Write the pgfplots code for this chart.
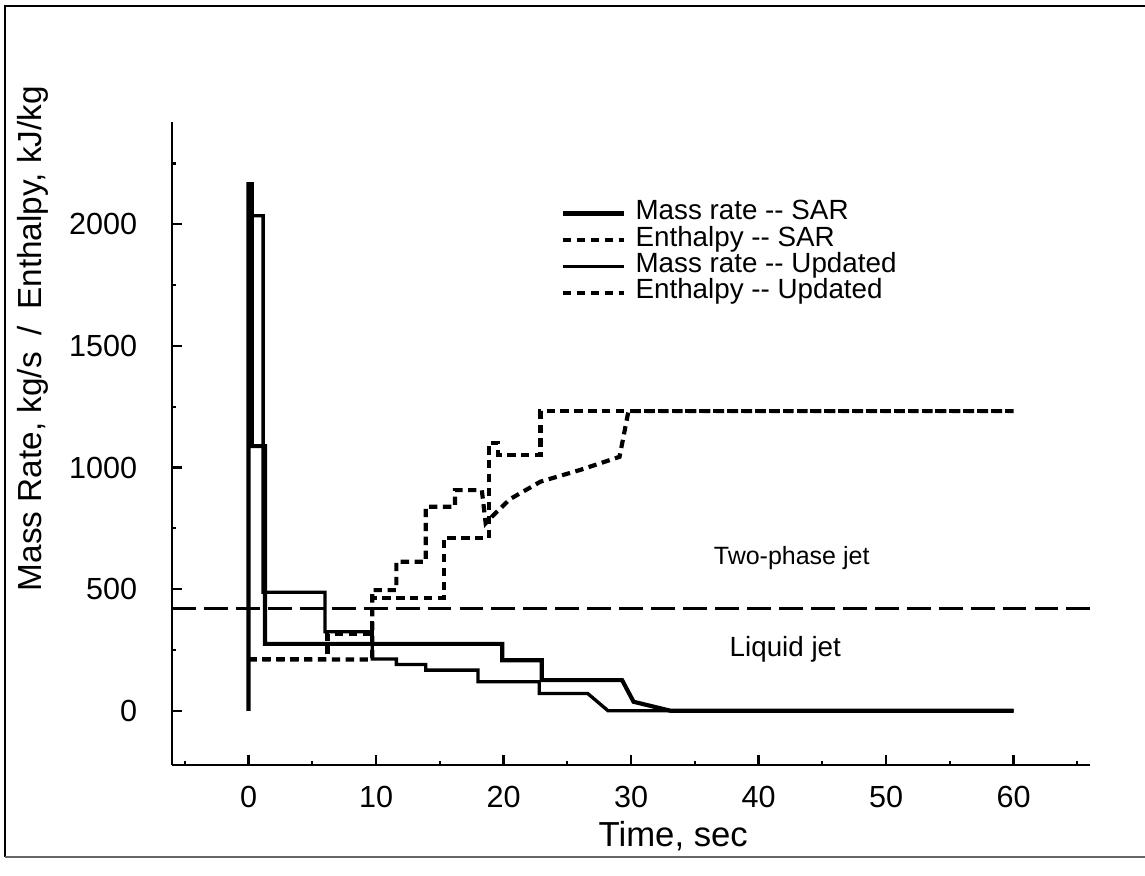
\documentclass[border=0pt]{standalone}
\usepackage{fontspec}
\setmainfont{Liberation Sans}
\usepackage{pgfplots}
\pgfplotsset{compat=1.18}

\begin{document}
\begin{tikzpicture}
\useasboundingbox (-61.92pt,-39.96pt) rectangle (350.28pt,275.4pt);
\draw[line width=0.7pt] (-60.1pt,-33.1pt) -- (-60.1pt,273.2pt) -- (350.28pt,273.2pt);
\draw[line width=0.5pt, black!60] (-60.1pt,-33.1pt) -- (350.28pt,-33.1pt);
\begin{axis}[
  scale only axis,
  width=330.5pt, height=231.5pt,
  xmin=-6, xmax=66, ymin=-223, ymax=2421,
  axis x line=bottom, axis y line=left,
  axis line style={-, line width=1pt},
  xtick={0,10,...,60}, minor xtick={-5,5,15,25,35,45,55,65},
  ytick={0,500,...,2000}, minor ytick={250,750,1250,1750,2250},
  tick align=inside,
  major tick length=3.6pt, minor tick length=1.6pt,
  tick style={line width=0.8pt, black},
  /pgf/number format/assume math mode=true,
  /pgf/number format/1000 sep={},
  xticklabel style={font=\fontsize{11}{13}\selectfont, yshift=-4pt},
  yticklabel style={font=\fontsize{11}{13}\selectfont, xshift=-9pt},
  xlabel={Time, sec},
  xlabel style={at={(axis description cs:0.546,-0.1106)}, anchor=center, font=\fontsize{12.5}{14}\selectfont},
  ylabel={Mass Rate, kg/s\enspace/\enspace Enthalpy, kJ/kg},
  ylabel style={at={(axis description cs:-0.151,0.663)}, anchor=center, font=\fontsize{12}{14}\selectfont},
  legend style={draw=none, fill=none, at={(axis description cs:0.423,0.879)}, anchor=north west,
    font=\fontsize{10}{11}\selectfont, inner sep=0pt, row sep=0pt, column sep=3.4pt,
    nodes={inner sep=0pt, text height=7pt, text depth=2.5pt}},
  legend cell align=left,
  legend image code/.code={\draw[#1] (0pt,0pt) -- (22pt,0pt);},
]
% Mass rate -- SAR
\addplot[black, line width=1.5pt, line join=miter] coordinates {
(0,0) (0,2165) (0.25,2165) (0.25,1088) (1.3,1088) (1.3,275) (19.9,275) (19.9,208)
(23.0,208) (23.0,126) (29.3,126) (30.2,37) (33.1,0) (60,0)};
\addlegendentry{Mass rate -{}- SAR}
% Enthalpy -- SAR
\addplot[black, line width=1.5pt, dash pattern=on 3pt off 2pt] coordinates {
(0,211) (9.7,211) (9.7,496) (11.6,496) (11.6,613) (13.9,613) (13.9,839) (16.2,839)
(16.2,907) (18.3,907) (18.6,771) (18.95,791) (20.5,870) (22.9,942) (26.0,990)
(29.1,1044) (29.8,1232) (60,1232)};
\addlegendentry{Enthalpy -{}- SAR}
% Mass rate -- Updated
\addplot[black, line width=1.2pt, line join=miter] coordinates {
(0.25,1088) (0.25,2035) (1.15,2035) (1.15,487) (6.0,487) (6.0,325) (9.7,325) (9.7,213)
(11.6,213) (11.6,190) (13.9,190) (13.9,167) (18.0,167) (18.0,119) (22.8,119)
(22.8,71) (26.6,71) (28.2,0) (60,0)};
\addlegendentry{Mass rate -{}- Updated}
% Enthalpy -- Updated
\addplot[black, line width=1.5pt, dash pattern=on 3pt off 2pt] coordinates {
(0,214) (6.2,214) (6.2,316) (9.7,316) (9.7,463) (15.3,463) (15.3,710) (18.85,710)
(18.85,1100) (19.6,1100) (19.6,1051) (22.9,1051) (22.9,1232) (60,1232)};
\addlegendentry{Enthalpy -{}- Updated}
% boundary between jets
\addplot[black, line width=1.1pt, dash pattern=on 8.6pt off 2.9pt, forget plot] coordinates {(-6,420) (66,420)};
\node[font=\fontsize{9}{11}\selectfont] at (axis cs:42.6,628) {Two-phase jet};
\node[font=\fontsize{10}{12}\selectfont] at (axis cs:42.1,254) {Liquid jet};
\end{axis}
\end{tikzpicture}
\end{document}
